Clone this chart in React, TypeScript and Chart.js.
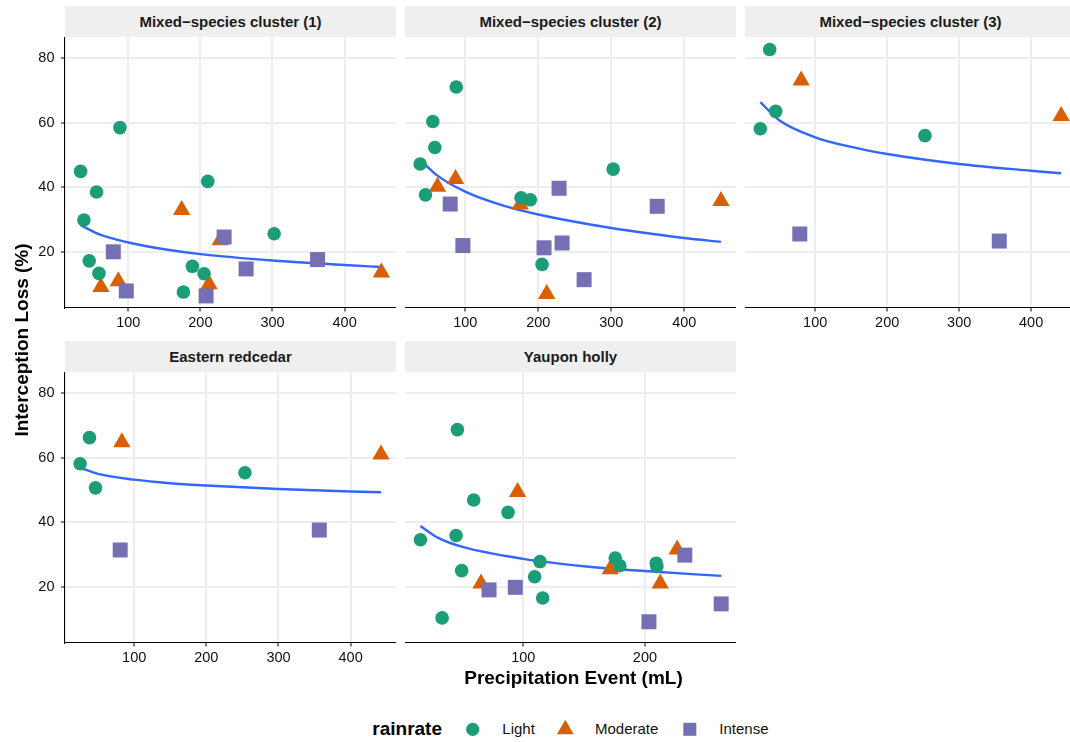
import React, { useEffect, useRef } from "react";
import { Chart, registerables } from "chart.js";

Chart.register(...registerables);

type Pt = [number, number];

// ---------- data ----------
const panelTitles = [
  "Mixed\u2212species cluster (1)",
  "Mixed\u2212species cluster (2)",
  "Mixed\u2212species cluster (3)",
  "Eastern redcedar",
  "Yaupon holly",
];
const seriesNames = ["Light", "Moderate", "Intense"];

const yTicks = [20, 40, 60, 80];
const xTicksWide = [100, 200, 300, 400];
const xTicksYaupon = [100, 200];

const cluster1Light: Pt[] = [[33.8, 44.9], [88.4, 58.5], [56, 38.5], [38.4, 29.8], [210.2, 41.8], [302.3, 25.5], [45.8, 17.1], [59.3, 13.2], [188.9, 15.4], [205.1, 13.1], [176.4, 7.4]];
const cluster1Moderate: Pt[] = [[174, 32.9], [227.5, 23.5], [86.1, 10.8], [62, 9.0], [212, 9.8], [451, 13.5]];
const cluster1Intense: Pt[] = [[79.2, 19.9], [97.2, 7.75], [232.9, 24.5], [263.4, 14.6], [362.5, 17.5], [207.9, 6.2]];
const cluster1Fit: Pt[] = [[33.8, 28.2], [60, 25.3], [100, 22.8], [150, 20.7], [200, 19.2], [300, 17.2], [400, 15.8], [451, 15.2]];

const cluster2Light: Pt[] = [[87.7, 71.1], [55.6, 60.4], [58.4, 52.3], [38.3, 47.2], [45.6, 37.6], [176.4, 36.7], [189.2, 36.1], [302.6, 45.6], [205.2, 16.0]];
const cluster2Moderate: Pt[] = [[62, 40.1], [86.7, 42.5], [175.4, 34.6], [211.6, 6.8], [450.2, 35.7]];
const cluster2Intense: Pt[] = [[79.4, 34.75], [96.8, 21.85], [228.5, 39.65], [207.9, 21.15], [232.6, 22.65], [262.8, 11.25], [362.9, 34.05]];
const cluster2Fit: Pt[] = [[38.3, 48.5], [60, 43.9], [100, 38.6], [150, 34.4], [200, 31.5], [300, 27.3], [400, 24.2], [450.2, 23.0]];

const cluster3Light: Pt[] = [[36.8, 82.75], [45.1, 63.55], [23.8, 58.15], [252.5, 56.0]];
const cluster3Moderate: Pt[] = [[80.5, 73.1], [441.7, 62.1]];
const cluster3Intense: Pt[] = [[78.6, 25.45], [355.7, 23.25]];
const cluster3Fit: Pt[] = [[23.8, 66.4], [50, 60.8], [100, 55.5], [150, 52.5], [200, 50.3], [300, 47.2], [400, 45.1], [441.7, 44.3]];

const redcedarLight: Pt[] = [[25.1, 58.15], [38.05, 66.25], [46.4, 50.65], [253.5, 55.35]];
const redcedarModerate: Pt[] = [[82.9, 64.8], [442.1, 61.0]];
const redcedarIntense: Pt[] = [[80.6, 31.35], [356.6, 37.55]];
const redcedarFit: Pt[] = [[25.1, 56.9], [50, 55.0], [100, 53.2], [150, 52.1], [200, 51.4], [300, 50.3], [400, 49.5], [442.1, 49.3]];

const yauponLight: Pt[] = [[15.4, 34.55], [45.8, 68.75], [59.2, 46.9], [87.4, 43.05], [44.7, 35.85], [49.3, 24.95], [33.2, 10.25], [113.7, 27.75], [109.3, 23.05], [115.9, 16.45], [175.6, 28.85], [179.4, 26.45], [209.3, 27.25], [209.8, 26.2]];
const yauponModerate: Pt[] = [[95.3, 49.4], [65.2, 20.9], [171.5, 25.4], [212.6, 20.9], [226.5, 31.5]];
const yauponIntense: Pt[] = [[71.8, 18.95], [93.4, 19.75], [232.8, 29.75], [203.3, 9.05], [262.7, 14.6]];
const yauponFit: Pt[] = [[15.4, 38.8], [30, 35.1], [50, 32.3], [100, 28.6], [150, 26.3], [200, 24.8], [262.8, 23.3]];

// ---------- style / layout ----------
const FONT = "'Liberation Sans', Arial, Helvetica, sans-serif";
const C_LIGHT = "#1B9E77";
const C_MOD = "#D95F02";
const C_INT = "#7570B3";
const C_FIT = "#3366FF";
const GRID = "#EDEDED";
const INK = "#111111";

const COL_LEFT = [65, 405, 745];
const ROW_TOP = [37, 372];
const PLOT_W = 331;
const PLOT_H = 271;
const STRIP_H = 31;
const Y_AXIS_W = 65;
const X_AXIS_H = 32;
const Y_MIN = 2.45;
const Y_MAX = 86.65;

interface PanelSpec {
  title: string;
  light: Pt[];
  moderate: Pt[];
  intense: Pt[];
  fit: Pt[];
  xMin: number;
  xMax: number;
  xTicks: number[];
  col: number;
  row: number;
}

const panels: PanelSpec[] = [
  { title: panelTitles[0], light: cluster1Light, moderate: cluster1Moderate, intense: cluster1Intense, fit: cluster1Fit, xMin: 12.2, xMax: 471.3, xTicks: xTicksWide, col: 0, row: 0 },
  { title: panelTitles[1], light: cluster2Light, moderate: cluster2Moderate, intense: cluster2Intense, fit: cluster2Fit, xMin: 17.5, xMax: 470.8, xTicks: xTicksWide, col: 1, row: 0 },
  { title: panelTitles[2], light: cluster3Light, moderate: cluster3Moderate, intense: cluster3Intense, fit: cluster3Fit, xMin: 2.5, xMax: 462.3, xTicks: xTicksWide, col: 2, row: 0 },
  { title: panelTitles[3], light: redcedarLight, moderate: redcedarModerate, intense: redcedarIntense, fit: redcedarFit, xMin: 4.1, xMax: 462.9, xTicks: xTicksWide, col: 0, row: 1 },
  { title: panelTitles[4], light: yauponLight, moderate: yauponModerate, intense: yauponIntense, fit: yauponFit, xMin: 2.7, xMax: 274.9, xTicks: xTicksYaupon, col: 1, row: 1 },
];

const toXY = (arr: Pt[]) => arr.map(([x, y]) => ({ x, y }));

function zeroPad(s: any) {
  s.paddingLeft = 0;
  s.paddingRight = 0;
  s.paddingTop = 0;
  s.paddingBottom = 0;
}

function Panel({ spec }: { spec: PanelSpec }) {
  const ref = useRef<HTMLCanvasElement | null>(null);
  const showY = spec.col === 0;
  const yW = showY ? Y_AXIS_W : 0;
  const width = PLOT_W + yW;
  const height = PLOT_H + X_AXIS_H;
  const left = COL_LEFT[spec.col] - yW;
  const top = ROW_TOP[spec.row];

  useEffect(() => {
    if (!ref.current) return;
    const chart = new Chart(ref.current, {
      type: "scatter",
      data: {
        datasets: [
          {
            label: "fit",
            type: "line",
            data: toXY(spec.fit),
            borderColor: C_FIT,
            borderWidth: 2.4,
            pointRadius: 0,
            showLine: true,
            fill: false,
            cubicInterpolationMode: "monotone",
            order: 4,
          } as any,
          {
            label: seriesNames[1],
            data: toXY(spec.moderate),
            pointStyle: "triangle",
            pointRadius: 10,
            backgroundColor: C_MOD,
            borderColor: C_MOD,
            borderWidth: 0,
            order: 3,
          },
          {
            label: seriesNames[2],
            data: toXY(spec.intense),
            pointStyle: "rect",
            pointRadius: 10.6,
            backgroundColor: C_INT,
            borderColor: C_INT,
            borderWidth: 0,
            order: 2,
          },
          {
            label: seriesNames[0],
            data: toXY(spec.light),
            pointStyle: "circle",
            pointRadius: 6.8,
            backgroundColor: C_LIGHT,
            borderColor: C_LIGHT,
            borderWidth: 0,
            order: 1,
          },
        ],
      },
      options: {
        animation: false,
        responsive: false,
        events: [],
        layout: { padding: 0, autoPadding: false },
        plugins: { legend: { display: false }, tooltip: { enabled: false }, title: { display: false } },
        scales: {
          x: {
            type: "linear",
            position: "bottom",
            min: spec.xMin,
            max: spec.xMax,
            afterBuildTicks: (s: any) => {
              s.ticks = spec.xTicks.map((v) => ({ value: v }));
            },
            afterFit: (s: any) => {
              s.height = X_AXIS_H;
              zeroPad(s);
            },
            grid: { color: GRID, lineWidth: 2, drawTicks: true, tickLength: 3.5, tickColor: INK, tickWidth: 1.07 },
            border: { display: true, color: "#000", width: 1.1 },
            ticks: { font: { family: FONT, size: 14.5 }, color: INK, padding: 3, maxRotation: 0, autoSkip: false },
          },
          y: {
            type: "linear",
            position: "left",
            min: Y_MIN,
            max: Y_MAX,
            afterBuildTicks: (s: any) => {
              s.ticks = yTicks.map((v) => ({ value: v }));
            },
            afterFit: (s: any) => {
              s.width = yW;
              zeroPad(s);
            },
            grid: { color: GRID, lineWidth: 2, drawTicks: showY, tickLength: 4, tickColor: INK, tickWidth: 1.07 },
            border: { display: showY, color: "#000", width: 1.1 },
            ticks: { display: showY, font: { family: FONT, size: 14.5 }, color: INK, padding: 6.5 },
          },
        },
      } as any,
    });
    return () => chart.destroy();
  }, [spec]);

  return (
    <>
      <div
        style={{
          position: "absolute",
          left: COL_LEFT[spec.col],
          top: top - STRIP_H,
          width: PLOT_W,
          height: STRIP_H,
          background: "#EFEFEF",
          font: `bold 15px ${FONT}`,
          color: "#1a1a1a",
          display: "flex",
          alignItems: "center",
          justifyContent: "center",
          whiteSpace: "nowrap",
        }}
      >
        {spec.title}
      </div>
      <canvas
        ref={ref}
        width={width}
        height={height}
        style={{ position: "absolute", left, top, width, height }}
      />
    </>
  );
}

function LegendIcons() {
  return (
    <svg width={1070} height={742} style={{ position: "absolute", left: 0, top: 0, pointerEvents: "none" }}>
      <circle cx={472.7} cy={729.3} r={6.6} fill={C_LIGHT} />
      <polygon points="565.3,719.8 573.7,734.3 556.9,734.3" fill={C_MOD} />
      <rect x={683.3} y={722.8} width={13} height={13} fill={C_INT} />
    </svg>
  );
}

export default function App() {
  return (
    <div
      style={{
        position: "fixed",
        left: 0,
        top: 0,
        width: 1070,
        height: 742,
        overflow: "hidden",
        background: "#fff",
        fontFamily: FONT,
      }}
    >
      {panels.map((p) => (
        <Panel key={p.title} spec={p} />
      ))}
      {/* y axis title */}
      <div
        style={{
          position: "absolute",
          left: 23 - 150,
          top: 340 - 12,
          width: 300,
          height: 24,
          lineHeight: "24px",
          textAlign: "center",
          transform: "rotate(-90deg)",
          font: `bold 19px ${FONT}`,
          color: "#000",
          whiteSpace: "nowrap",
        }}
      >
        Interception Loss (%)
      </div>
      {/* x axis title */}
      <div
        style={{
          position: "absolute",
          left: 573.5 - 200,
          top: 667.2,
          width: 400,
          height: 19,
          lineHeight: "19px",
          textAlign: "center",
          font: `bold 19px ${FONT}`,
          color: "#000",
          whiteSpace: "nowrap",
        }}
      >
        Precipitation Event (mL)
      </div>
      {/* legend */}
      <div style={{ position: "absolute", left: 372.3, top: 718.9, font: `bold 19px ${FONT}`, lineHeight: "19px", color: "#000", whiteSpace: "nowrap" }}>
        rainrate
      </div>
      <div style={{ position: "absolute", left: 502.3, top: 721.3, font: `15px ${FONT}`, lineHeight: "15px", color: INK, whiteSpace: "nowrap" }}>
        {seriesNames[0]}
      </div>
      <div style={{ position: "absolute", left: 595, top: 721.3, font: `15px ${FONT}`, lineHeight: "15px", color: INK, whiteSpace: "nowrap" }}>
        {seriesNames[1]}
      </div>
      <div style={{ position: "absolute", left: 719.3, top: 721.3, font: `15px ${FONT}`, lineHeight: "15px", color: INK, whiteSpace: "nowrap" }}>
        {seriesNames[2]}
      </div>
      <LegendIcons />
    </div>
  );
}
